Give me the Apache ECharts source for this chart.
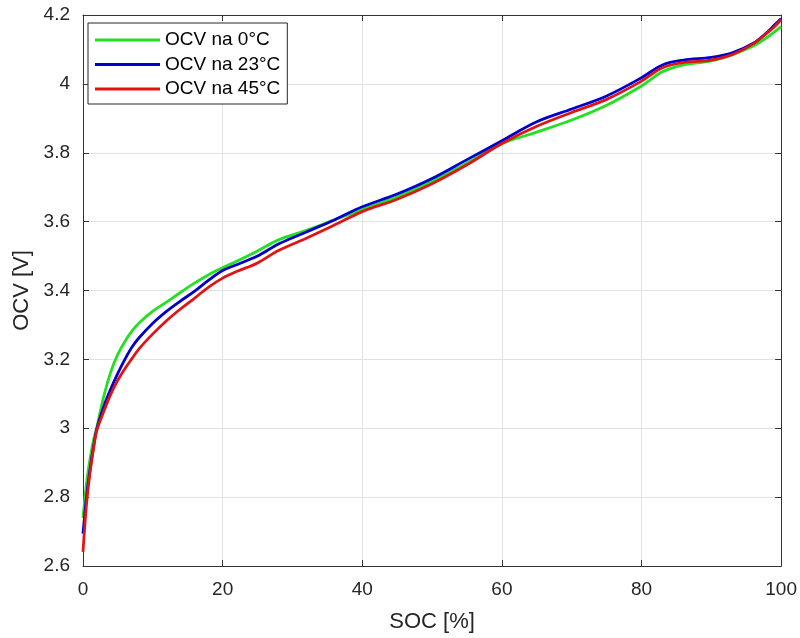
<!DOCTYPE html>
<html>
<head>
<meta charset="utf-8">
<script src="https://cdn.jsdelivr.net/npm/echarts@6/dist/echarts.min.js"></script>
<style>
html,body{margin:0;padding:0;background:#fff;}
#chart{width:800px;height:638px;}
</style>
</head>
<body>
<div id="chart"></div>
<script>
var soc = [0, 0.5, 1, 1.5, 2, 3, 4, 5, 6, 7, 8, 10, 12, 14, 16, 18, 20, 22, 25, 28, 32, 36, 40, 45, 50, 55, 60, 65, 70, 75, 80, 83, 86, 90, 93, 96, 98, 99, 100];
var ocv0 = [2.74, 2.84, 2.91, 2.965, 3.005, 3.095, 3.165, 3.215, 3.252, 3.282, 3.305, 3.34, 3.367, 3.395, 3.422, 3.446, 3.466, 3.485, 3.515, 3.547, 3.575, 3.605, 3.635, 3.672, 3.717, 3.77, 3.826, 3.86, 3.895, 3.938, 3.994, 4.035, 4.055, 4.067, 4.085, 4.11, 4.135, 4.15, 4.166];
var ocv23 = [2.694, 2.80, 2.88, 2.945, 3.0, 3.065, 3.115, 3.16, 3.20, 3.235, 3.262, 3.305, 3.34, 3.37, 3.398, 3.43, 3.458, 3.475, 3.50, 3.535, 3.57, 3.605, 3.643, 3.68, 3.725, 3.78, 3.835, 3.89, 3.927, 3.965, 4.018, 4.055, 4.069, 4.077, 4.09, 4.118, 4.15, 4.17, 4.19];
var ocv45 = [2.641, 2.78, 2.87, 2.94, 2.995, 3.05, 3.10, 3.14, 3.173, 3.202, 3.23, 3.274, 3.313, 3.347, 3.378, 3.41, 3.436, 3.455, 3.48, 3.516, 3.552, 3.59, 3.629, 3.665, 3.71, 3.765, 3.827, 3.877, 3.917, 3.955, 4.008, 4.047, 4.062, 4.069, 4.085, 4.116, 4.148, 4.165, 4.187];
var seriesNames = ['OCV na 0°C', 'OCV na 23°C', 'OCV na 45°C'];
var seriesColors = ['#22e022', '#0000cc', '#e01414'];
var xTitle = 'SOC [%]';
var yTitle = 'OCV [V]';

function pairs(ys){ return soc.map(function(x,i){ return [x, ys[i]]; }); }
var allData = [ocv0, ocv23, ocv45];

var FONT = '"Liberation Sans", Arial, Helvetica, sans-serif';
var TXT = '#262626';
var AX = '#333333';

var chart = echarts.init(document.getElementById('chart'), null, {renderer:'canvas'});
var option = {
  animation: false,
  backgroundColor: '#ffffff',
  textStyle: {fontFamily: FONT},
  grid: {left: 83, right: 18, top: 15, bottom: 67, containLabel: false},
  legend: {
    left: 88, top: 23, orient: 'vertical',
    data: seriesNames,
    icon: 'rect', itemWidth: 65, itemHeight: 3, itemGap: 4.5,
    padding: [7, 7, 5, 7],
    borderColor: '#262626', borderWidth: 1, backgroundColor: '#ffffff',
    textStyle: {fontFamily: FONT, fontSize: 19, color: '#000', lineHeight: 20}
  },
  xAxis: [{
    type: 'value', min: 0, max: 100, interval: 20,
    name: xTitle, nameLocation: 'middle', nameGap: 45,
    nameTextStyle: {fontFamily: FONT, fontSize: 22, color: TXT},
    axisLine: {show: true, onZero: false, lineStyle: {color: AX, width: 1}},
    axisTick: {show: true, inside: true, length: 6, lineStyle: {color: AX}},
    axisLabel: {fontFamily: FONT, fontSize: 19, color: TXT, margin: 14},
    splitLine: {show: true, lineStyle: {color: '#e2e2e2', width: 1}}
  }, {
    type: 'value', min: 0, max: 100, interval: 20, position: 'top',
    axisLine: {show: true, onZero: false, lineStyle: {color: AX, width: 1}},
    axisTick: {show: true, inside: true, length: 6, lineStyle: {color: AX}},
    axisLabel: {show: false}, splitLine: {show: false}
  }],
  yAxis: [{
    type: 'value', min: 2.6, max: 4.2, interval: 0.2,
    name: yTitle, nameLocation: 'middle', nameGap: 50,
    nameTextStyle: {fontFamily: FONT, fontSize: 22, color: TXT},
    axisLine: {show: true, onZero: false, lineStyle: {color: AX, width: 1}},
    axisTick: {show: true, inside: true, length: 6, lineStyle: {color: AX}},
    axisLabel: {fontFamily: FONT, fontSize: 19, color: TXT, margin: 13,
      formatter: function(v){ return String(parseFloat(v.toFixed(1))); }},
    splitLine: {show: true, lineStyle: {color: '#e2e2e2', width: 1}}
  }, {
    type: 'value', min: 2.6, max: 4.2, interval: 0.2, position: 'right',
    axisLine: {show: true, onZero: false, lineStyle: {color: AX, width: 1}},
    axisTick: {show: true, inside: true, length: 6, lineStyle: {color: AX}},
    axisLabel: {show: false}, splitLine: {show: false}
  }],
  series: seriesNames.map(function(n, i){
    return {
      name: n, type: 'line', xAxisIndex: 0, yAxisIndex: 0,
      data: pairs(allData[i]),
      showSymbol: false, symbol: 'none',
      smooth: 0.35,
      lineStyle: {color: seriesColors[i], width: 2.8},
      itemStyle: {color: seriesColors[i]},
      z: 2 + i
    };
  })
};
chart.setOption(option);
</script>
</body>
</html>
